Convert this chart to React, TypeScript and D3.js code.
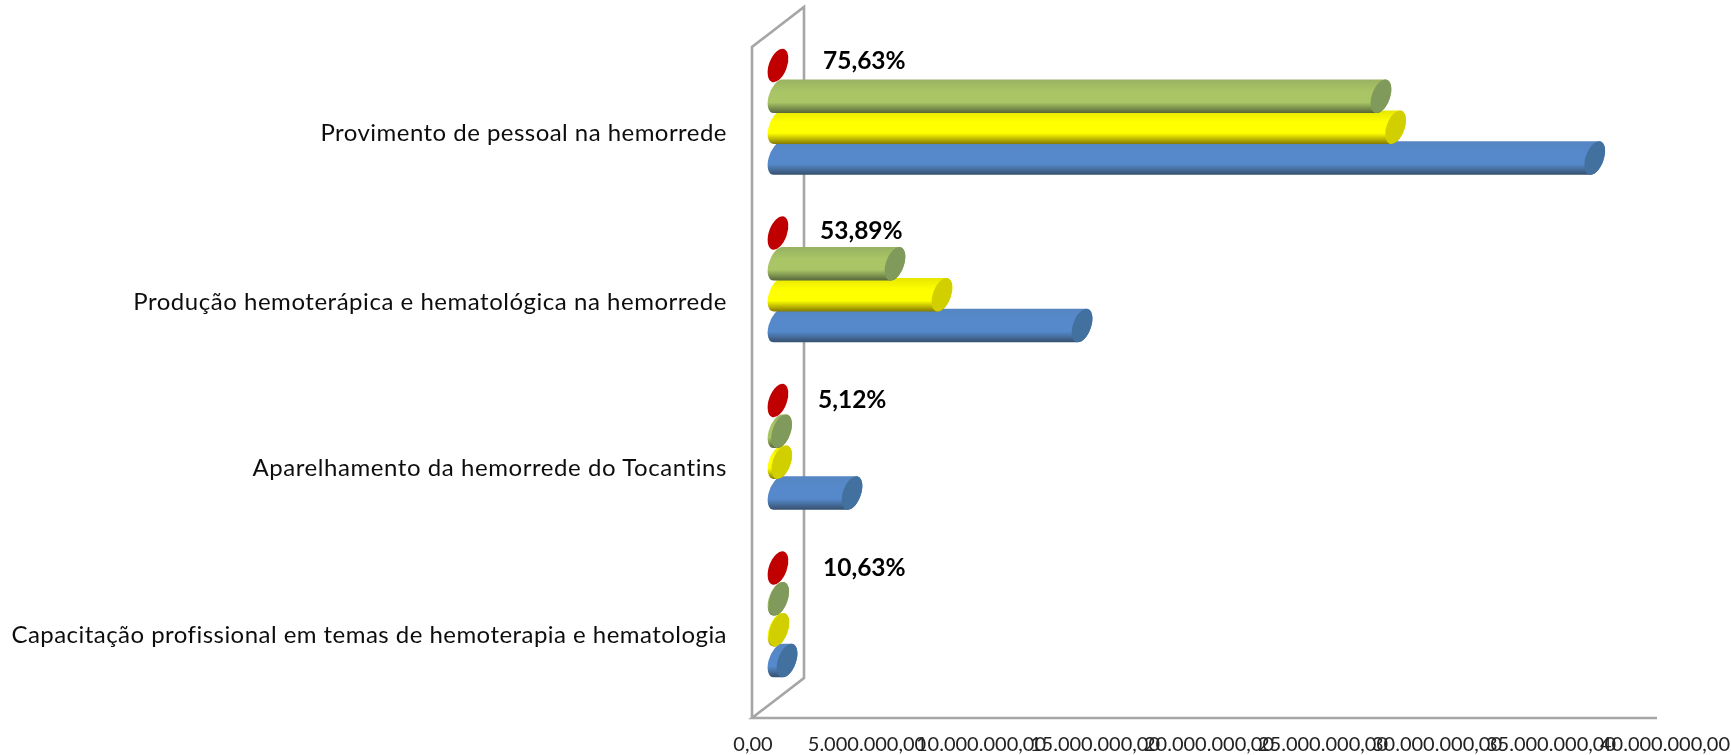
import React from "react";
import * as d3 from "d3";

const categories = [
  "Provimento de pessoal na hemorrede",
  "Produção hemoterápica e hematológica na hemorrede",
  "Aparelhamento da hemorrede do Tocantins",
  "Capacitação profissional em temas de hemoterapia e hematologia",
];
const seriesNames = ["red", "green", "yellow", "blue"];
const redValues = [0, 0, 0, 0];
const greenValues = [26650000, 5170000, 160000, 30000];
const yellowValues = [27300000, 7250000, 167000, 42500];
const blueValues = [36100000, 13440000, 3270000, 400000];
const percentLabels = ["75,63%", "53,89%", "5,12%", "10,63%"];
const tickValues = [0, 5e6, 10e6, 15e6, 20e6, 25e6, 30e6, 35e6, 40e6];
const tickLabels = ["0,00", "5.000.000,00", "10.000.000,00", "15.000.000,00", "20.000.000,00", "25.000.000,00", "30.000.000,00", "35.000.000,00", "40.000.000,00"];

const percentX = [823, 820, 818, 823];
const percentY = [69, 239, 408, 576];
const labelY = [141, 309.5, 476, 643];
const labelSpacing = [0.46, 0.53, 0.57, 0.46];

const valuesBySeries: Record<string, number[]> = { red: redValues, green: greenValues, yellow: yellowValues, blue: blueValues };
const capColor: Record<string, string> = { red: "#c00000", green: "#7f9a5a", yellow: "#d2cf00", blue: "#42709f" };
const stops: Record<string, string[]> = {
  red: ["#c00000", "#c00000", "#800000"],
  green: ["#98b261", "#a9c566", "#56663a"],
  yellow: ["#e6e600", "#ffff00", "#857a00"],
  blue: ["#5686c2", "#5689cb", "#35506d"],
};

const W = 1731, H = 755;
const FRONT_X = 752, BACK_X = 804, AXIS_END = 1657;
const FRONT_TOP = 47, BACK_TOP = 7, FRONT_BOTTOM = 718, BACK_BOTTOM = 678;
const DEPTH = (BACK_X - FRONT_X) / 2;

const x = d3.scaleLinear().domain([0, 40e6]).range([FRONT_X, AXIS_END]);
const yGroup = d3.scaleBand<string>().domain(categories).range([27, 697]);
const yRow = d3.scaleBand<string>().domain(seriesNames).range([23, 146.5]);

const RX = 9, RY = 17.5, ROT = 20;
const th = (ROT * Math.PI) / 180;
const hY = Math.sqrt(RY * RY * Math.cos(th) ** 2 + RX * RX * Math.sin(th) ** 2);
const dX = ((RY * RY - RX * RX) * Math.sin(th) * Math.cos(th)) / hY;

function bodyPath(x0: number, x1: number, cy: number) {
  return `M${x0 + dX},${cy - hY} L${x1 + dX},${cy - hY} A${RX},${RY} ${ROT} 0 1 ${x1 - dX},${cy + hY} L${x0 - dX},${cy + hY} A${RX},${RY} ${ROT} 0 1 ${x0 + dX},${cy - hY} Z`;
}

export default function App() {
  const drawOrder = ["blue", "yellow", "green", "red"];
  return (
    <svg width={W} height={H} viewBox={`0 0 ${W} ${H}`} style={{ position: "absolute", left: 0, top: 0, display: "block", background: "#fff" }}>
      <defs>
        {seriesNames.map((s) => (
          <linearGradient key={s} id={`g-${s}`} x1="0" y1="0" x2="0" y2="1">
            <stop offset="0" stopColor={stops[s][0]} />
            <stop offset="0.35" stopColor={stops[s][1]} />
            <stop offset="0.68" stopColor={stops[s][1]} />
            <stop offset="1" stopColor={stops[s][2]} />
          </linearGradient>
        ))}
        <filter id="soft" x="-2%" y="-2%" width="104%" height="104%">
          <feGaussianBlur stdDeviation="0.45" />
        </filter>
      </defs>
      <g filter="url(#soft)">
        <path
          d={`M${FRONT_X},${FRONT_BOTTOM} L${FRONT_X},${FRONT_TOP} L${BACK_X},${BACK_TOP} L${BACK_X},${BACK_BOTTOM} L${FRONT_X},${FRONT_BOTTOM} L${AXIS_END},${FRONT_BOTTOM}`}
          fill="none" stroke="#a6a6a6" strokeWidth={2.6}
        />
        {categories.map((c, i) => (
          <g key={c}>
            {drawOrder.map((s) => {
              const v = valuesBySeries[s][i];
              const cy = yGroup(c)! + yRow(s)! + yRow.bandwidth() / 2;
              const x0 = x(0) + DEPTH;
              const x1 = x(v) + DEPTH;
              return (
                <g key={s}>
                  {v > 0 && <path d={bodyPath(x0, x1, cy)} fill={`url(#g-${s})`} />}
                  <ellipse cx={x1} cy={cy} rx={RX} ry={RY} transform={`rotate(${ROT} ${x1} ${cy})`} fill={capColor[s]} />
                </g>
              );
            })}
          </g>
        ))}
        {categories.map((c, i) => (
          <text key={c} x={727} y={labelY[i]} textAnchor="end" fontFamily="Lato" fontSize={24} letterSpacing={labelSpacing[i]} fill="#111">{c}</text>
        ))}
        {percentLabels.map((p, i) => (
          <text key={p} x={percentX[i]} y={percentY[i]} fontFamily="Lato" fontWeight={700} fontSize={24.5} fill="#000">{p}</text>
        ))}
        {tickValues.map((t, i) => (
          <text key={t} x={x(t) + (i / 8) * 7 + 1} y={751} textAnchor="middle" fontFamily="Lato" fontSize={20} fill="#222">{tickLabels[i]}</text>
        ))}
      </g>
    </svg>
  );
}
